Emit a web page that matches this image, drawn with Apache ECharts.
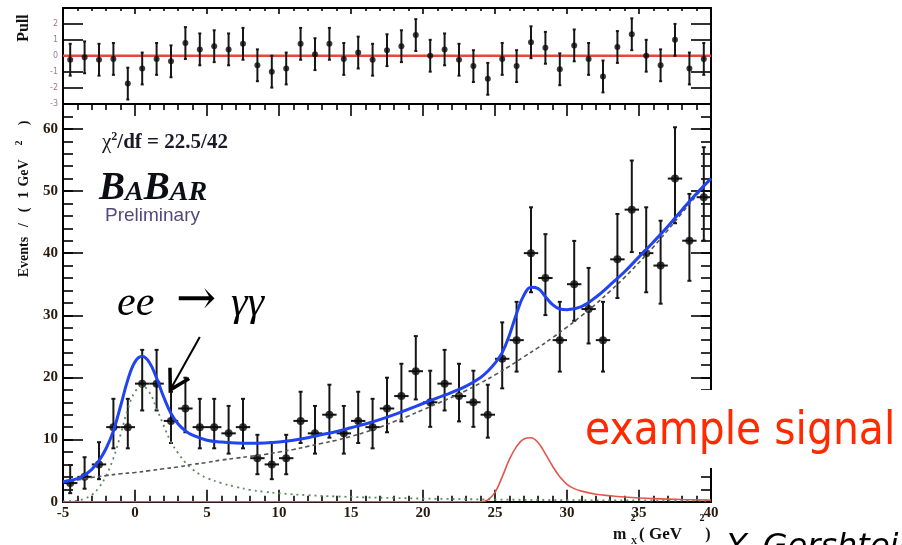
<!DOCTYPE html>
<html>
<head>
<meta charset="utf-8">
<script src="https://cdn.jsdelivr.net/npm/echarts@6/dist/echarts.min.js"></script>
<style>
  html, body { margin: 0; padding: 0; background: #fff; }
  #chart { width: 902px; height: 545px; }
</style>
</head>
<body>
<div id="chart"></div>
<script>
// ---- measured data: events per 1 GeV^2 bin of m_X^2 ----
const binCenters = [-4.5, -3.5, -2.5, -1.5, -0.5, 0.5, 1.5, 2.5, 3.5, 4.5,
  5.5, 6.5, 7.5, 8.5, 9.5, 10.5, 11.5, 12.5, 13.5, 14.5,
  15.5, 16.5, 17.5, 18.5, 19.5, 20.5, 21.5, 22.5, 23.5, 24.5,
  25.5, 26.5, 27.5, 28.5, 29.5, 30.5, 31.5, 32.5, 33.5, 34.5,
  35.5, 36.5, 37.5, 38.5, 39.5];
const counts = [3, 4, 6, 12, 12, 19, 19, 13, 15, 12,
  12, 11, 12, 7, 6, 7, 13, 11, 14, 11,
  13, 12, 15, 17, 21, 16, 19, 17, 16, 14,
  23, 26, 40, 36, 26, 35, 31, 26, 39, 47,
  40, 38, 52, 42, 49];
// fit residuals (pulls) per bin
const pulls = [-0.25, -0.1, -0.25, -0.2, -1.75, -0.8, -0.2, -0.35, 0.8, 0.4,
  0.6, 0.4, 0.75, -0.6, -1.0, -0.8, 0.75, 0.1, 0.75, -0.2,
  0.2, -0.25, 0.35, 0.6, 1.3, 0, 0.4, -0.25, -0.65, -1.45,
  -0.2, -0.65, 0.85, 0.5, -0.85, 0.65, -0.2, -1.3, 0.55, 1.35,
  0, -0.6, 1.0, -0.8, -0.2];

// ---- fit curves ----
const fitX = [-5, -4.5, -4, -3.5, -3, -2.5, -2, -1.5, -1, -0.5, 0, 0.5, 1, 1.5, 2, 2.5, 3, 3.5, 4,
  5, 6, 7, 8, 9, 10, 11, 12, 13, 14, 15, 16, 17, 18, 19, 20, 21, 22, 23, 24, 24.5, 25, 25.5,
  26, 26.5, 27, 27.5, 28, 28.5, 29, 29.5, 30, 31, 32, 33, 34, 35, 36, 37, 38, 39, 40];
const fitY = [3.2, 3.4, 3.7, 4.3, 5.2, 6.6, 8.6, 11.4, 15.4, 19.6, 22.5, 23.4, 22.4, 19.9, 16.8, 14.2, 12.5, 11.4, 10.7,
  9.9, 9.6, 9.45, 9.4, 9.45, 9.6, 9.9, 10.3, 10.8, 11.3, 11.9, 12.5, 13.2, 14.0, 14.9, 15.8, 16.7, 17.6, 18.6, 20.0, 21.0, 22.3, 24.0,
  26.8, 30.3, 33.2, 34.5, 34.3, 33.0, 31.7, 31.0, 30.9, 31.4, 32.9, 34.9, 37.0, 39.4, 41.8, 44.3, 47.0, 49.6, 52.0];

const bkgX = [-5, -4, -3, -2, -1, 0, 1, 2, 3, 4, 5, 6, 7, 8, 9, 10, 11, 12, 13, 14, 15, 16, 17, 18, 19, 20,
  21, 22, 23, 24, 25, 26, 27, 28, 29, 30, 31, 32, 33, 34, 35, 36, 37, 38, 39, 40];
const bkgY = [3.2, 3.5, 3.9, 4.2, 4.5, 4.7, 5.0, 5.3, 5.6, 6.0, 6.3, 6.7, 7.0, 7.3, 7.6, 8.0, 8.4, 8.9, 9.4, 9.9, 10.5, 11.2, 12.0, 12.9, 13.8, 14.8,
  15.8, 16.8, 17.9, 19.1, 20.4, 21.8, 23.3, 24.8, 26.4, 28.1, 29.9, 31.8, 33.9, 36.1, 38.5, 41.0, 43.7, 46.5, 49.3, 52.0];

const peakX = [-5, -4.5, -4, -3.5, -3, -2.5, -2, -1.5, -1, -0.5, 0, 0.5, 1, 1.5, 2, 2.5, 3, 3.5, 4, 4.5, 5,
  6, 7, 8, 9, 10, 12, 14, 16, 18, 20, 25, 30, 35, 40];
const peakY = [0.05, 0.1, 0.2, 0.5, 1.1, 2.3, 4.2, 7.0, 10.8, 14.9, 17.7, 18.6, 17.6, 15.0, 12.2, 9.6, 7.8, 6.3, 5.2, 4.4, 3.8,
  3.0, 2.4, 1.9, 1.6, 1.35, 1.05, 0.85, 0.7, 0.6, 0.5, 0.35, 0.25, 0.2, 0.15];

const sigX = [-5, 10, 20, 23, 24, 24.5, 25, 25.5, 26, 26.5, 27, 27.5, 28, 28.5, 29, 29.5, 30, 30.5, 31,
  32, 33, 34, 35, 36, 38, 40];
const sigY = [0, 0, 0, 0, 0, 0.3, 1.5, 4.0, 6.8, 8.9, 10.1, 10.3, 9.5, 7.7, 5.7, 4.0, 2.8, 2.1, 1.7,
  1.2, 0.95, 0.75, 0.6, 0.5, 0.35, 0.25];

const SERIF = "'Liberation Serif','DejaVu Serif',serif";
const SANS = "'DejaVu Sans','Liberation Sans',sans-serif";
const LABEL_COLOR = '#2a1a0e';
const BIN_HALF = 0.5;

const zip = (xs, ys) => xs.map((x, i) => [x, ys[i]]);

// 68% central Poisson interval of a count (Wilson-Hilferty form)
const poissonLow = n => n * Math.pow(1 - 1 / (9 * n) - 1 / (3 * Math.sqrt(n)), 3);
const poissonHigh = n => (n + 1) * Math.pow(1 - 1 / (9 * (n + 1)) + 1 / (3 * Math.sqrt(n + 1)), 3);

const dataErr = binCenters.map((x, i) => [x, poissonLow(counts[i]), poissonHigh(counts[i]), counts[i]]);
const pullErr = binCenters.map((x, i) => [x, pulls[i] - 1, pulls[i] + 1, pulls[i]]);

function barItem(withHorizontal, cap) {
  return function (params, api) {
    const x = api.value(0), lo = api.value(1), hi = api.value(2), y = api.value(3);
    const top = api.coord([x, hi]);
    const bot = api.coord([x, lo]);
    const st = { stroke: '#161616', lineWidth: 2 };
    const kids = [
      { type: 'line', shape: { x1: top[0], y1: top[1], x2: bot[0], y2: bot[1] }, style: st },
      { type: 'line', shape: { x1: top[0] - cap, y1: top[1], x2: top[0] + cap, y2: top[1] }, style: st },
      { type: 'line', shape: { x1: bot[0] - cap, y1: bot[1], x2: bot[0] + cap, y2: bot[1] }, style: st }
    ];
    if (withHorizontal) {
      const l = api.coord([x - BIN_HALF, y]);
      const r = api.coord([x + BIN_HALF, y]);
      kids.push({ type: 'line', shape: { x1: l[0], y1: l[1], x2: r[0], y2: r[1] }, style: st });
    }
    return { type: 'group', children: kids };
  };
}

const frameLine = { show: true, onZero: false, lineStyle: { color: '#000', width: 2 } };
const tickStyle = { color: '#000', width: 1.6 };

function xAx(grid, pos, opts) {
  return Object.assign({
    type: 'value', gridIndex: grid, position: pos, min: -5, max: 40, interval: 5,
    axisLine: frameLine, splitLine: { show: false },
    axisTick: { show: true, inside: true, length: 12, lineStyle: tickStyle },
    minorTick: { show: true, splitNumber: 5, length: 6, lineStyle: tickStyle },
    axisLabel: { show: false }
  }, opts);
}
function yAx(grid, pos, min, max, interval, tickLen, opts) {
  return Object.assign({
    type: 'value', gridIndex: grid, position: pos, min: min, max: max, interval: interval,
    axisLine: frameLine, splitLine: { show: false },
    axisTick: { show: true, inside: true, length: tickLen, lineStyle: tickStyle },
    minorTick: { show: false },
    axisLabel: { show: false }
  }, opts);
}

const mainLabel = {
  show: true, margin: 4, color: LABEL_COLOR,
  fontFamily: SERIF, fontWeight: 'bold', fontSize: 15
};

const option = {
  animation: false,
  backgroundColor: '#fff',
  grid: [
    { left: 63, right: 191, top: 8, height: 95.5, outerBoundsMode: 'none' },
    { left: 63, right: 191, top: 104, height: 397.7, outerBoundsMode: 'none' }
  ],
  xAxis: [
    xAx(0, 'bottom', { axisTick: { show: false }, minorTick: { show: false } }),
    xAx(0, 'top', { axisTick: { show: true, inside: true, length: 6, lineStyle: tickStyle },
                   minorTick: { show: true, splitNumber: 5, length: 3, lineStyle: tickStyle } }),
    xAx(1, 'bottom', { axisLabel: Object.assign({}, mainLabel, { hideOverlap: false }) }),
    xAx(1, 'top', {})
  ],
  yAxis: [
    yAx(0, 'left', -3, 3, 1, 20, {
      axisLabel: { show: true, showMaxLabel: false, margin: 5, color: '#9a7a98',
                   fontFamily: SANS, fontSize: 8 }
    }),
    yAx(0, 'right', -3, 3, 1, 20, {}),
    yAx(1, 'left', 0, 64, 10, 20, {
      axisLabel: Object.assign({}, mainLabel, {
        margin: 5,
        formatter: v => (v % 10 === 0 ? String(v) : '')
      })
    }),
    yAx(1, 'left', 0, 64, 2, 10, {}),
    yAx(1, 'right', 0, 64, 10, 20, {}),
    yAx(1, 'right', 0, 64, 2, 10, {})
  ],
  series: [
    // pull panel
    {
      type: 'line', xAxisIndex: 0, yAxisIndex: 0, data: [[-5, 0], [40, 0]],
      symbol: 'none', lineStyle: { color: '#e8453c', width: 2.5 }, z: 2, silent: true
    },
    {
      type: 'custom', xAxisIndex: 0, yAxisIndex: 0, data: pullErr,
      renderItem: barItem(false, 1.5), encode: { x: 0, y: [1, 2] }, z: 3, silent: true
    },
    {
      type: 'scatter', xAxisIndex: 0, yAxisIndex: 0, data: zip(binCenters, pulls),
      symbol: 'circle', symbolSize: 6, itemStyle: { color: '#0a0a0a' }, z: 4, silent: true
    },
    // main panel: measured points
    {
      type: 'custom', xAxisIndex: 2, yAxisIndex: 2, data: dataErr,
      renderItem: barItem(true, 2), encode: { x: 0, y: [1, 2] }, z: 3, silent: true
    },
    {
      type: 'scatter', xAxisIndex: 2, yAxisIndex: 2, data: zip(binCenters, counts),
      symbol: 'circle', symbolSize: 8, itemStyle: { color: '#0a0a0a' }, z: 4, silent: true
    },
    // fit components
    {
      type: 'line', xAxisIndex: 2, yAxisIndex: 2, data: zip(sigX, sigY),
      smooth: 0.4, symbol: 'none', lineStyle: { color: '#e2574c', width: 1.6 }, z: 5, silent: true
    },
    {
      type: 'line', xAxisIndex: 2, yAxisIndex: 2, data: zip(peakX, peakY),
      smooth: 0.4, symbol: 'none', lineStyle: { color: '#5f8a5f', width: 1.8, type: [2, 4] }, z: 5, silent: true
    },
    {
      type: 'line', xAxisIndex: 2, yAxisIndex: 2, data: zip(bkgX, bkgY),
      smooth: 0.4, symbol: 'none', lineStyle: { color: '#555', width: 1.6, type: [4, 3] }, z: 5, silent: true
    },
    {
      type: 'line', xAxisIndex: 2, yAxisIndex: 2, data: zip(fitX, fitY),
      smooth: 0.4, symbol: 'none', lineStyle: { color: '#2143f0', width: 3 }, z: 6, silent: true
    }
  ]
};

const chart = echarts.init(document.getElementById('chart'), null, { renderer: 'canvas' });
chart.setOption(option);

function text(str, x, y, font, fill, align, extra) {
  return Object.assign({
    type: 'text', x: x, y: y, z: 100,
    style: { text: str, font: font, fill: fill || '#000',
             align: align || 'left', textAlign: align || 'left',
             verticalAlign: 'middle', textVerticalAlign: 'middle' }
  }, extra || {});
}
function vtext(str, x, y, font) {
  return text(str, x, y, font, '#111', 'center', { rotation: Math.PI / 2 });
}

// arrow pointing at the e+e- -> gamma gamma peak
const arrowTail = [4.5, 26.5];
const arrowTip = [2.45, 18.0];
const pTail = chart.convertToPixel({ xAxisIndex: 2, yAxisIndex: 2 }, arrowTail);
const pTip = chart.convertToPixel({ xAxisIndex: 2, yAxisIndex: 2 }, arrowTip);
const dx = pTail[0] - pTip[0], dy = pTail[1] - pTip[1];
const len = Math.hypot(dx, dy);
const ux = dx / len, uy = dy / len;
const headLen = 22, headAng = 30 * Math.PI / 180;
const arm = s => [pTip[0] + headLen * (ux * Math.cos(s * headAng) - uy * Math.sin(s * headAng)),
                  pTip[1] + headLen * (ux * Math.sin(s * headAng) + uy * Math.cos(s * headAng))];

const F = (w, s, fam) => `${w} ${s}px ${fam}`;

chart.setOption({
  graphic: [
    // panel titles
    vtext('Pull', 24, 28, F('bold', 16, SERIF)),
    vtext('Events', 24, 257, F('bold', 14, SERIF)),
    vtext('/', 24, 225, F('bold', 14, SERIF)),
    vtext('(', 24, 210, F('bold', 14, SERIF)),
    vtext('1', 24, 195, F('bold', 14, SERIF)),
    vtext('GeV', 24, 173, F('bold', 14, SERIF)),
    vtext('2', 19, 143, F('bold', 10, SERIF)),
    vtext(')', 24, 123, F('bold', 14, SERIF)),
    // x axis title m_X^2 (GeV^2)
    text('m', 613, 535, F('bold', 16, SERIF), '#111'),
    text('2', 633, 518, F('bold', 10, SERIF), '#111', 'center'),
    text('X', 634, 542, F('bold', 9, SERIF), '#111', 'center'),
    text('( GeV', 639, 535, F('bold', 17, SERIF), '#111'),
    text('2', 702, 518, F('bold', 10, SERIF), '#111', 'center'),
    text(')', 708, 535, F('bold', 16, SERIF), '#111', 'center'),
    // fit quality and experiment tag
    {
      type: 'text', x: 102, y: 142, z: 100,
      style: {
        text: '{c|\u03c7}{s|2}{t|/df = 22.5/42}',
        verticalAlign: 'middle', textVerticalAlign: 'middle',
        rich: {
          c: { font: F('normal', 21, SERIF), fill: '#1a1a2a', verticalAlign: 'bottom' },
          s: { font: F('bold', 12, SERIF), fill: '#1a1a2a', verticalAlign: 'bottom', padding: [0, 0, 10, 0] },
          t: { font: F('bold', 21, SERIF), fill: '#1a1a2a', verticalAlign: 'bottom' }
        }
      }
    },
    {
      type: 'text', x: 99, y: 189, z: 100,
      style: {
        text: '{b|B}{a|A}{b|B}{a|AR}',
        verticalAlign: 'middle', textVerticalAlign: 'middle',
        rich: {
          b: { font: F('italic bold', 39, SERIF), fill: '#0d0d16', verticalAlign: 'bottom' },
          a: { font: F('italic bold', 28, SERIF), fill: '#0d0d16', verticalAlign: 'bottom', padding: [0, 0, 2, 0] }
        }
      }
    },
    text('Preliminary', 105, 216, F('normal', 19, "'Liberation Sans',sans-serif"), '#54487a'),
    // process label
    text('ee', 117, 304, F('italic', 42, SERIF), '#000'),
    text('\u2192', 196, 302, F('normal', 48, "'DejaVu Serif',serif"), '#000', 'center'),
    text('\u03b3\u03b3', 231, 304, F('italic', 42, SERIF), '#000'),
    {
      type: 'line', z: 100,
      shape: { x1: pTail[0], y1: pTail[1], x2: pTip[0], y2: pTip[1] },
      style: { stroke: '#000', lineWidth: 2 }
    },
    {
      type: 'polyline', z: 100,
      shape: { points: [arm(1), pTip, arm(-1)] },
      style: { stroke: '#000', lineWidth: 3.5, fill: null, lineJoin: 'miter' }
    },
    // signal annotation on a white panel
    { type: 'rect', z: 90, shape: { x: 582, y: 390, width: 320, height: 78 }, style: { fill: '#fff' } },
    text('example signal', 585, 432, F('normal', 46, SANS), '#ff2a00', 'left', { scaleX: 0.89 }),
    text('Y. Gershtein', 727, 548, F('italic', 32, SANS), '#000')
  ]
});
</script>
</body>
</html>
